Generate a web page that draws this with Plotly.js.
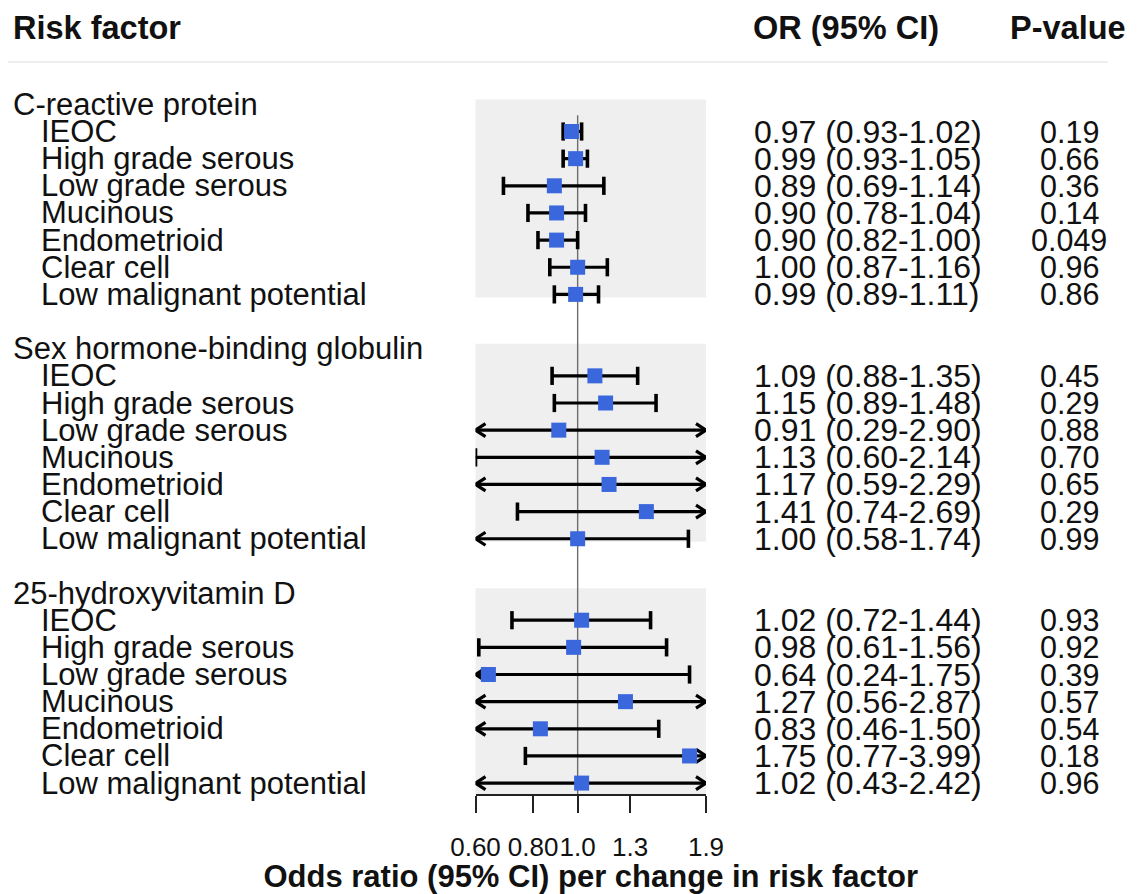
<!DOCTYPE html>
<html><head><meta charset="utf-8">
<script src="https://cdn.plot.ly/plotly-3.0.1.min.js"></script>
<style>html,body{margin:0;padding:0;background:#fff}#chart{width:1146px;height:894px}</style>
</head><body><div id="chart"></div>
<script>
// ---------------- data ----------------
const groups = ['C-reactive protein', 'Sex hormone-binding globulin', '25-hydroxyvitamin D'];
const subtypes = ['IEOC', 'High grade serous', 'Low grade serous', 'Mucinous', 'Endometrioid', 'Clear cell', 'Low malignant potential'];

const orCRP = [0.97, 0.99, 0.89, 0.90, 0.90, 1.00, 0.99];
const loCRP = [0.93, 0.93, 0.69, 0.78, 0.82, 0.87, 0.89];
const hiCRP = [1.02, 1.05, 1.14, 1.04, 1.00, 1.16, 1.11];
const pCRP  = ['0.19', '0.66', '0.36', '0.14', '0.049', '0.96', '0.86'];

const orSHBG = [1.09, 1.15, 0.91, 1.13, 1.17, 1.41, 1.00];
const loSHBG = [0.88, 0.89, 0.29, 0.60, 0.59, 0.74, 0.58];
const hiSHBG = [1.35, 1.48, 2.90, 2.14, 2.29, 2.69, 1.74];
const pSHBG  = ['0.45', '0.29', '0.88', '0.70', '0.65', '0.29', '0.99'];

const orVitD = [1.02, 0.98, 0.64, 1.27, 0.83, 1.75, 1.02];
const loVitD = [0.72, 0.61, 0.24, 0.56, 0.46, 0.77, 0.43];
const hiVitD = [1.44, 1.56, 1.75, 2.87, 1.50, 3.99, 2.42];
const pVitD  = ['0.93', '0.92', '0.39', '0.57', '0.54', '0.18', '0.96'];

const tickVals = [0.6, 0.8, 1.0, 1.3, 1.9];
const tickText = ['0.60', '0.80', '1.0', '1.3', '1.9'];
const xMin = 0.6, xMax = 1.9;

const headers = ['Risk factor', 'OR (95% CI)', 'P-value'];
const xTitle = 'Odds ratio (95% CI) per change in risk factor';

// ---------------- layout helpers ----------------
const W = 1146, H = 894;
const row0 = 131.5, rowH = 27.15;           // pixel centre of first data row, row spacing
const kOf = px => (px - row0) / rowH;       // pixel -> row unit
const FONT = 'Liberation Sans, Arial, sans-serif';
const INK = '#111111';
const BLUE = '#3b67dc';

const gOR = [orCRP, orSHBG, orVitD];
const gLo = [loCRP, loSHBG, loVitD];
const gHi = [hiCRP, hiSHBG, hiVitD];
const gP  = [pCRP, pSHBG, pVitD];

const ciX = [], ciY = [], capX = [], capY = [], arX = [], arY = [], ptX = [], ptY = [];
const annotations = [];
const shapes = [];
const arrowF = Math.exp(10 / 200);  // arrow head length (~10 px)
const arrowH = 6.5 / rowH;          // arrow half height

const axisK = kOf(795);

groups.forEach((gname, g) => {
  const hk = g * 9 - 1;
  annotations.push({x: 11 / W, xref: 'paper', y: hk, yref: 'y', xanchor: 'left', yanchor: 'middle',
    text: gname, showarrow: false, font: {family: FONT, size: 31, color: INK}});
  const lastK = g * 9 + subtypes.length - 1;
  shapes.push({type: 'rect', layer: 'below', xref: 'x domain', x0: 0, x1: 1, yref: 'y',
    y0: hk - 0.18, y1: g === groups.length - 1 ? axisK : lastK + 0.11,
    fillcolor: '#efefef', line: {width: 0}});
  subtypes.forEach((s, i) => {
    const k = g * 9 + i;
    const o = gOR[g][i], lo = gLo[g][i], hi = gHi[g][i];
    annotations.push({x: 39 / W, xref: 'paper', y: k, yref: 'y', xanchor: 'left', yanchor: 'middle',
      text: s, showarrow: false, font: {family: FONT, size: 31, color: INK}});
    annotations.push({x: 752 / W, xref: 'paper', y: k, yref: 'y', xanchor: 'left', yanchor: 'middle',
      text: o.toFixed(2) + ' (' + lo.toFixed(2) + '-' + hi.toFixed(2) + ')', showarrow: false,
      font: {family: FONT, size: 32, color: INK}});
    annotations.push({x: 1069 / W, xref: 'paper', y: k, yref: 'y', xanchor: 'center', yanchor: 'middle',
      text: gP[g][i], showarrow: false, font: {family: FONT, size: 30.5, color: INK}});
    const a = Math.max(lo, xMin), b = Math.min(hi, xMax);
    ciX.push(a, b, null); ciY.push(k, k, null);
    if (lo >= xMin) { capX.push(lo); capY.push(k); }
    else { arX.push(xMin * arrowF, xMin, xMin * arrowF, null); arY.push(k - arrowH, k, k + arrowH, null); }
    if (hi <= xMax) { capX.push(hi); capY.push(k); }
    else { arX.push(xMax / arrowF, xMax, xMax / arrowF, null); arY.push(k - arrowH, k, k + arrowH, null); }
    ptX.push(o); ptY.push(k);
  });
});

// headers
const hk = kOf(28);
annotations.push({x: 11 / W, xref: 'paper', y: hk, yref: 'y', xanchor: 'left', yanchor: 'middle',
  text: '<b>' + headers[0] + '</b>', showarrow: false, font: {family: FONT, size: 32.5, color: INK}});
annotations.push({x: 751 / W, xref: 'paper', y: hk, yref: 'y', xanchor: 'left', yanchor: 'middle',
  text: '<b>' + headers[1] + '</b>', showarrow: false, font: {family: FONT, size: 32.5, color: INK}});
annotations.push({x: 1068 / W, xref: 'paper', y: hk, yref: 'y', xanchor: 'center', yanchor: 'middle',
  text: '<b>' + headers[2] + '</b>', showarrow: false, font: {family: FONT, size: 32.5, color: INK}});

shapes.push({type: 'line', xref: 'paper', x0: 8 / W, x1: 1108 / W, yref: 'y', y0: kOf(62), y1: kOf(62),
  line: {color: '#e8e8e8', width: 1.5}});

const traces = [
  {x: [1, 1], y: [-0.6, axisK], mode: 'lines', line: {color: '#6e6e6e', width: 1.4}, hoverinfo: 'skip'},
  {x: ciX, y: ciY, mode: 'lines', line: {color: '#000000', width: 3.2}, hoverinfo: 'skip'},
  {x: arX, y: arY, mode: 'lines', line: {color: '#000000', width: 3.2}, hoverinfo: 'skip'},
  {x: capX, y: capY, mode: 'markers', marker: {symbol: 'line-ns-open', size: 13, color: '#000000', line: {width: 3.6, color: '#000000'}}, hoverinfo: 'skip'},
  {x: ptX, y: ptY, mode: 'markers', marker: {symbol: 'square', size: 15, color: BLUE, line: {width: 0}}}
];

const layout = {
  width: W, height: H,
  margin: {l: 0, r: 0, t: 0, b: 0},
  paper_bgcolor: '#ffffff', plot_bgcolor: 'rgba(0,0,0,0)',
  showlegend: false,
  font: {family: FONT, color: INK},
  xaxis: {
    type: 'log', range: [Math.log10(xMin), Math.log10(xMax)],
    domain: [475.5 / W, 706 / W], anchor: 'free', position: 1 - 795 / H,
    showgrid: false, zeroline: false, showline: true, linecolor: '#222222', linewidth: 2,
    ticks: 'outside', ticklen: 17, tickwidth: 2, tickcolor: '#222222',
    tickmode: 'array', tickvals: tickVals, ticktext: tickText, tickangle: 0,
    tickfont: {family: FONT, size: 26, color: INK},
    ticklabelstandoff: 12,
    title: {text: '<b>' + xTitle + '</b>', font: {family: FONT, size: 31, color: INK}, standoff: 8}
  },
  yaxis: {
    range: [kOf(H), kOf(0)], domain: [0, 1], visible: false,
    showgrid: false, zeroline: false
  },
  shapes: shapes,
  annotations: annotations
};

Plotly.newPlot('chart', traces, layout, {displayModeBar: false, staticPlot: true});
</script>
</body></html>
